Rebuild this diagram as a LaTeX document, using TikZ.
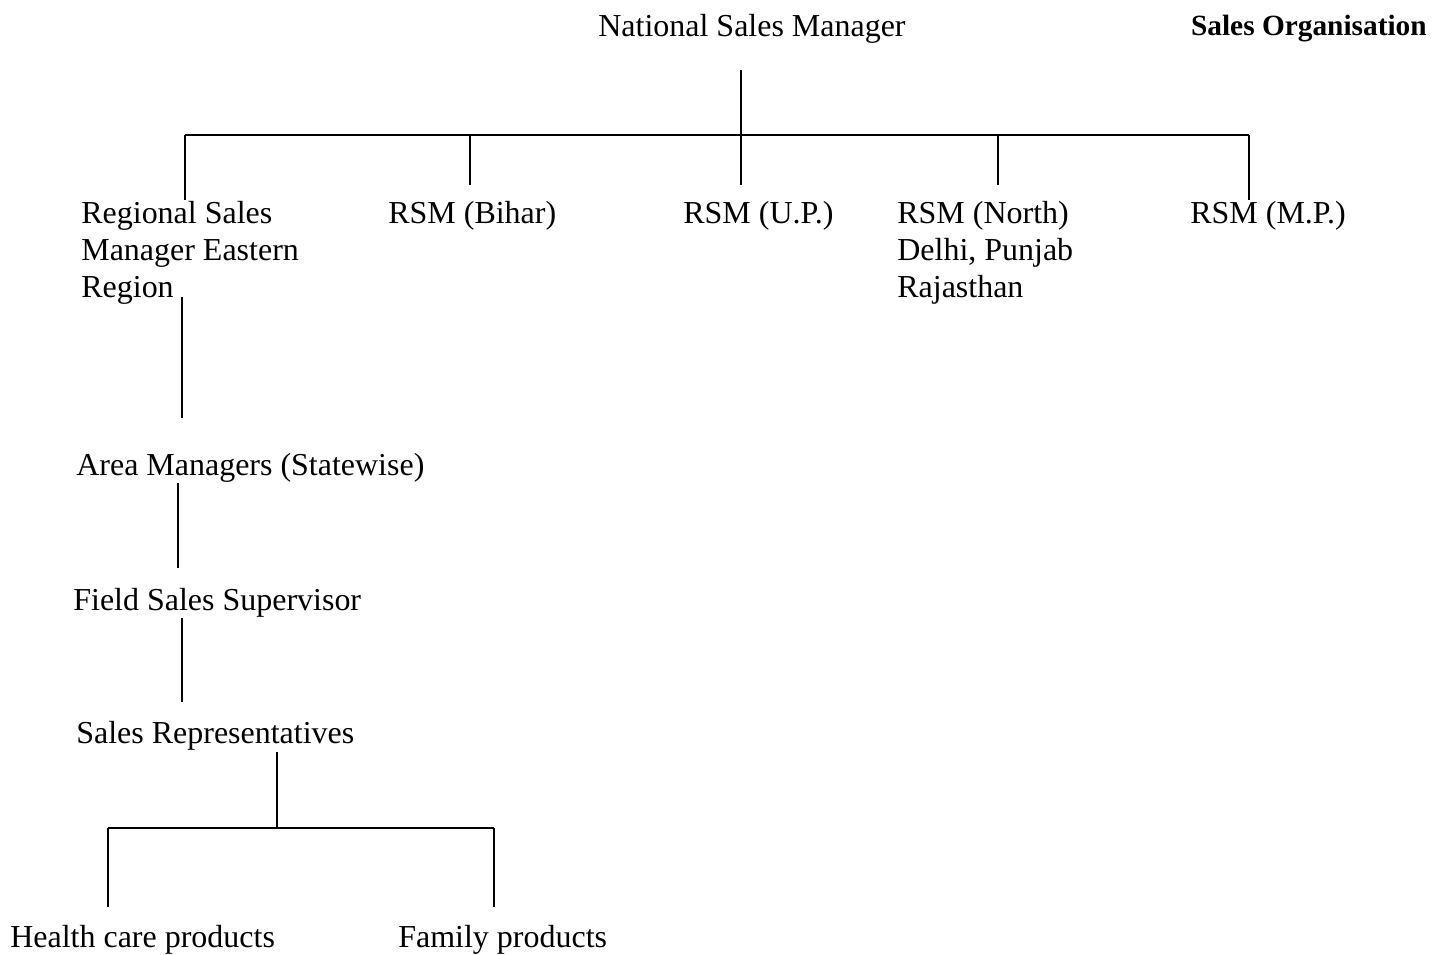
\documentclass[tikz,border=0pt]{standalone}
\usepackage{fontspec}
\setmainfont{Liberation Serif}
\tikzset{
  lbl/.style={anchor=base west, inner sep=0pt, font=\fontsize{18.2}{21}\selectfont},
  lblm/.style={lbl, align=left},
  link/.style={line width=1pt}
}
\begin{document}
\begin{tikzpicture}[x=0.02cm, y=-0.02cm]
    \useasboundingbox (0, 0) rectangle (1444, 954);
    % top level
    \node[lbl] (nsm) at (598, 36) {National Sales Manager};
    \node[lbl, anchor=base east, font=\fontsize{16.7}{20}\selectfont\bfseries] (title) at (1427, 35) {Sales Organisation};
    % regional managers (multi-line ones sit on their last baseline)
    \node[lblm] (east) at (81, 297) {Regional Sales\\Manager Eastern\\Region};
    \node[lbl] (bihar) at (388, 223) {RSM (Bihar)};
    \node[lbl] (up) at (683, 223) {RSM (U.P.)};
    \node[lblm] (north) at (897, 297) {RSM (North)\\Delhi, Punjab\\Rajasthan};
    \node[lbl] (mp) at (1190, 223) {RSM (M.P.)};
    % eastern chain
    \node[lbl] (area) at (76, 475) {Area Managers (Statewise)};
    \node[lbl] (fss) at (73, 610) {Field Sales Supervisor};
    \node[lbl] (rep) at (76, 743) {Sales Representatives};
    \node[lbl] (health) at (10, 947) {Health care products};
    \node[lbl] (family) at (398, 947) {Family products};
    % junctions
    \coordinate (nsmdrop) at (741, 70);
    \coordinate (barL) at (185, 135);
    \coordinate (barR) at (1249, 135);
    \coordinate (repdrop) at (277, 752);
    \coordinate (prodL) at (108, 828);
    \coordinate (prodR) at (494, 828);
    \draw[link] (nsmdrop) -- (nsmdrop |- barL);
    \draw[link] (barL) -- (barR);
    \foreach \x/\e in {185/200, 470/185, 741/185, 998/185, 1249/200}{
        \draw[link] (\x, 135) -- (\x, \e);
    }
    \draw[link] (182, 297) -- (182, 418);
    \draw[link] (178, 483) -- (178, 568);
    \draw[link] (182, 618) -- (182, 702);
    \draw[link] (repdrop) -- (repdrop |- prodL);
    \draw[link] (prodL) -- (prodR);
    \draw[link] (prodL) -- (108, 907);
    \draw[link] (prodR) -- (494, 907);
\end{tikzpicture}
\end{document}
